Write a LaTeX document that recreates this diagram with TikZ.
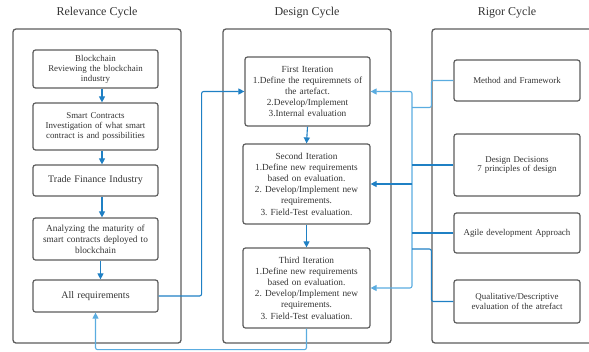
\documentclass[tikz,border=0pt]{standalone}
\usepackage{fontspec}
\setmainfont{Liberation Serif}
\usetikzlibrary{arrows.meta}
\frenchspacing
\definecolor{frameGray}{HTML}{5C5C5C}
\definecolor{flowBlue}{HTML}{1F80C4}
\definecolor{lightBlue}{HTML}{5AACE0}
\tikzset{
  cycleframe/.style={draw=frameGray, line width=1.3pt, rounded corners=3pt},
  title/.style={font=\fontsize{12}{13}\selectfont, text=black!80},
  box/.style={draw=frameGray, line width=1.2pt, rounded corners=2.5pt, align=center,
    text=black!80, inner sep=1pt, font=\fontsize{8.9}{9.9}\selectfont},
  bigbox/.style={box, font=\fontsize{10}{11}\selectfont},
  iterbox/.style={box, font=\fontsize{9.3}{11.2}\selectfont},
  flow/.style={flowBlue, line width=1.1pt, rounded corners=2pt},
  lightflow/.style={flow, draw=lightBlue},
  tip/.style={-{Triangle[width=6pt,length=6pt]}},
}
\begin{document}
\begin{tikzpicture}[x=1pt,y=-1pt]
  \useasboundingbox (0,0) rectangle (589,351);

  % Zyklen
  \draw[cycleframe] (13,29) rectangle (181,343);
  \draw[cycleframe] (223,29) rectangle (391,343);
  \draw[cycleframe] (432,29) rectangle (600,343);
  \node[title] (relT) at (97,13) {Relevance Cycle};
  \node[title] (desT) at (307,13) {Design Cycle};
  \node[title] (rigT) at (507,13) {Rigor Cycle};

  % Relevance Cycle
  \node[box, minimum width=125pt, minimum height=38pt, text width=122pt] (blk) at (95.5,69)
    {Blockchain\\Reviewing the blockchain\\industry};
  \node[box, minimum width=125pt, minimum height=47pt, text width=122pt] (smc) at (95.5,126.5)
    {Smart Contracts\\Investigation of what smart\\contract is and possibilities};
  \node[bigbox, minimum width=125pt, minimum height=31pt, text width=122pt] (tfi) at (95.5,180.5)
    {Trade Finance Industry};
  \node[box, font=\fontsize{9.3}{11}\selectfont, minimum width=125pt, minimum height=42pt, text width=122pt] (ana) at (95.5,239)
    {Analyzing the maturity of\\smart contracts deployed to\\blockchain};
  \node[bigbox, minimum width=125pt, minimum height=32pt, text width=122pt] (req) at (95.5,296)
    {All requirements};

  \draw[flow,tip] ([xshift=6.5pt]blk.south) -- ([xshift=6.5pt]smc.north);
  \draw[flow,tip] ([xshift=6.5pt]smc.south) -- ([xshift=6.5pt]tfi.north);
  \draw[flow,tip] ([xshift=6.5pt]tfi.south) -- ([xshift=6.5pt]ana.north);
  \draw[flow,tip] ([xshift=5pt]ana.south) -- ([xshift=5pt]req.north);

  % Design Cycle
  \node[iterbox, minimum width=125pt, minimum height=69pt, text width=123pt] (it1) at (307.5,91.5)
    {First Iteration\\1.Define the requiremnets of\\the artefact.\\2.Develop/Implement\\3.Internal evaluation};
  \node[iterbox, minimum width=127pt, minimum height=80pt, text width=125pt] (it2) at (306.5,184)
    {Second Iteration\\1.Define new requirements\\based on evaluation.\\2. Develop/Implement new\\requirements.\\3. Field-Test evaluation.};
  \node[iterbox, minimum width=127pt, minimum height=80pt, text width=125pt] (it3) at (306.5,288)
    {Third Iteration\\1.Define new requirements\\based on evaluation.\\2. Develop/Implement new\\requirements.\\3. Field-Test evaluation.};

  \draw[flow,tip] (it1.south) -- (it2.north);
  \draw[flow,tip] (it2.south) -- (it3.north);

  % Rigor Cycle
  \node[box, minimum width=126pt, minimum height=41pt, text width=124pt] (mf) at (517,80.5)
    {Method and Framework};
  \node[box, minimum width=126pt, minimum height=62pt, text width=124pt] (dd) at (517,165)
    {Design Decisions\\7 principles of design};
  \node[box, minimum width=126pt, minimum height=40pt, text width=124pt] (ag) at (517,233)
    {Agile development Approach};
  \node[box, minimum width=126pt, minimum height=43pt, text width=124pt] (qd) at (517,301.5)
    {Qualitative/Descriptive\\evaluation of the atrefact};

  % Verbindungen
  \draw[flow,tip] (req.east) -- ++(43,0) |- (it1.west);
  \draw[lightflow,tip] (it3.south) -- ++(0,21) -| (req.south);

  \coordinate (bus) at (412,184);
  \draw[lightflow,tip] (bus) |- (it1.east);
  \draw[lightflow,tip] (bus) |- (it3.east);
  \draw[flow,tip] (bus) -- (it2.east);

  \draw[lightflow] (mf.west) -- ++(-22,0) |- (bus |- 0,107.5);
  \draw[flow] (dd.west) -- (dd.west -| bus);
  \draw[flow] (ag.west) -- (ag.west -| bus);
  \draw[flow] (qd.west) -- ++(-22,0) |- (bus |- 0,249);
\end{tikzpicture}
\end{document}
